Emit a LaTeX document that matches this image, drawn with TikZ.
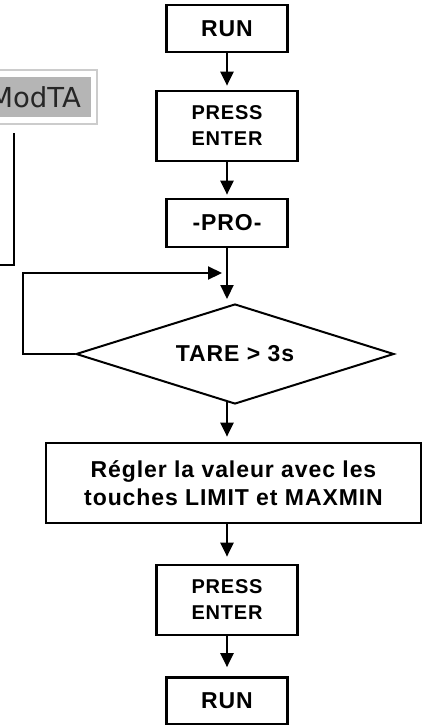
\documentclass[tikz,border=0pt]{standalone}
\usepackage{fontspec}
\setmainfont{Liberation Sans}[LetterSpace=4]
\newfontfamily\btnfont{DejaVu Sans}
\usetikzlibrary{shapes.geometric, arrows.meta, positioning}

\begin{document}
\begin{tikzpicture}[
    x=1pt, y=-1pt,
    stepbox/.style={rectangle, draw=black, line width=2.7pt, fill=white, align=center, inner sep=0pt, font=\bfseries\fontsize{23}{28}\selectfont},
    runbox/.style={stepbox, minimum width=121pt, minimum height=47pt},
    pressbox/.style={stepbox, minimum width=141pt, minimum height=70pt, font=\bfseries\fontsize{20}{26}\selectfont},
    test/.style={diamond, draw=black, line width=2pt, aspect=3.16, inner sep=0pt, minimum width=318pt, minimum height=100pt, font=\bfseries\fontsize{23}{25}\selectfont},
    flow/.style={line width=2.2pt, shorten >=4pt, -{Triangle[length=14pt, width=13pt]}},
    link/.style={line width=2pt},
    modta_btn/.style={
        rectangle, fill=gray!58, text=black!85, inner xsep=10pt, minimum height=40pt, font=\btnfont\fontsize{27.5}{30}\selectfont,
        append after command={
            \pgfextra{
                \draw[gray!40, line width=2pt] ([shift={(0pt,-6.5pt)}]\tikzlastnode.south west) rectangle ([shift={(6pt,6.5pt)}]\tikzlastnode.north east);
            }
        }
    }
]
\useasboundingbox (0,0) rectangle (424,725);

% ModTA button
\node[modta_btn, anchor=east] (modta) at (91,97) {ModTA};
\coordinate (drop) at (14,133);
\coordinate (exit) at (-2,265);
\draw[link] (drop) |- (exit);

% Main column
\node[runbox] (run_top) at (227,28.5) {RUN};
\node[pressbox] (press_top) at (227,126) {PRESS\\ENTER};
\node[runbox, minimum height=48pt] (pro) at (227,223) {-PRO-};

% Test
\node[test] (tare) at (235,354) {TARE > 3s};

% Setting
\node[stepbox, minimum width=375pt, minimum height=80pt] (regler) at (233.5,483) {Régler la valeur avec les\\touches LIMIT et MAXMIN};
\node[pressbox] (press_bot) at (227,600) {PRESS\\ENTER};
\node[runbox] (run_bot) at (227,701) {RUN};

% Connections
\draw[flow] (run_top.south) -- (press_top.north);
\draw[flow, shorten >=3pt] (press_top.south) -- (pro.north);
\draw[flow] (pro.south) -- (pro.south |- tare.north);
\draw[flow, shorten >=5pt] ([yshift=3pt]pro.south |- tare.south) -- (pro.south |- regler.north);
\draw[flow, shorten >=7pt] (press_bot.north |- regler.south) -- (press_bot.north);
\draw[flow, shorten >=9pt] (press_bot.south) -- (run_bot.north);

% Loop back
\coordinate (loopcorner) at (23,273);
\coordinate (merge) at (pro.south |- loopcorner);
\draw[flow, shorten >=5pt] (tare.west) -| (loopcorner) -- (merge);

\end{tikzpicture}
\end{document}
